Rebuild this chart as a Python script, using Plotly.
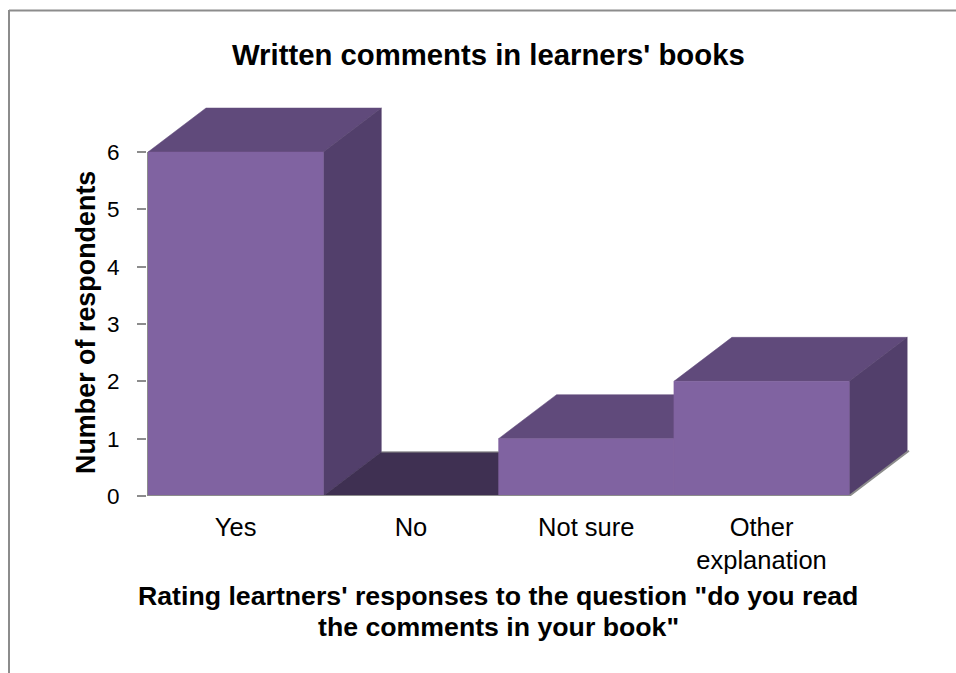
import plotly.graph_objects as go

categories = ["Yes", "No", "Not sure", "Other<br>explanation"]
respondents = [6, 0, 1, 2]
y_ticks = [0, 1, 2, 3, 4, 5, 6]

TITLE = "Written comments in learners' books"
Y_TITLE = "Number of respondents"
X_TITLE_LINES = ["Rating leartners' responses to the question \"do you read",
                 "the comments in your book\""]

FRONT = "#8063A1"
TOP = "#604A7B"
SIDE = "#523F6B"
FLOOR = "#3F3052"
AXIS = "#8C8C8C"

W, H = 956, 673
LEFT, RIGHT, TOP_PX, BOTTOM = 147, 928, 96, 496
CAT_PX = 175.3
UNIT_PX = 57.33
DX = 58 / CAT_PX      # depth offset of the 3D projection, in category units
DY = 44 / UNIT_PX     # depth offset of the 3D projection, in value units
X0 = -0.5 - 1 / CAT_PX
X1 = X0 + (RIGHT - LEFT) / CAT_PX
Y1 = (BOTTOM - TOP_PX) / UNIT_PX


def poly(xs, ys, color):
    return go.Scatter(x=xs + xs[:1], y=ys + ys[:1], mode="lines", fill="toself",
                      fillcolor=color, line=dict(color=color, width=0.5),
                      hoverinfo="skip", showlegend=False)


fig = go.Figure()
n = len(respondents)
xpos = list(range(n))

for i, v in zip(xpos, respondents):
    l, r = i - 0.5, i + 0.5
    fig.add_trace(poly([l, r, r + DX, l + DX], [v, v, v + DY, v + DY], TOP if v > 0 else FLOOR))
    if v > 0:
        fig.add_trace(poly([r, r + DX, r + DX, r], [0, DY, v + DY, v], SIDE))
        fig.add_trace(poly([l, r, r, l], [0, 0, v, v], FRONT))

# floor edges
zero = [i for i, v in zip(xpos, respondents) if v == 0]
for i in zero:
    fig.add_trace(go.Scatter(x=[i - 0.5 + DX, i + 0.5], y=[DY, DY], mode="lines",
                             line=dict(color=AXIS, width=1), hoverinfo="skip", showlegend=False))
fig.add_trace(go.Scatter(x=[X0, n - 0.5, n - 0.5 + DX * 1.03], y=[0, 0, DY * 1.03], mode="lines",
                         line=dict(color=AXIS, width=2), hoverinfo="skip", showlegend=False,
                         cliponaxis=False))
fig.add_trace(go.Scatter(x=[X0, X0], y=[0, max(y_ticks)], mode="lines",
                         line=dict(color=AXIS, width=2), hoverinfo="skip", showlegend=False,
                         cliponaxis=False))

FONT = "Liberation Sans, Arial, sans-serif"
fig.update_layout(
    width=W, height=H, margin=dict(l=0, r=0, t=0, b=0),
    paper_bgcolor="white", plot_bgcolor="white", showlegend=False,
    font=dict(family=FONT, color="black"),
    xaxis=dict(domain=[LEFT / W, RIGHT / W], range=[X0, X1], tickmode="array",
               tickvals=xpos, ticktext=categories, showgrid=False, zeroline=False,
               showline=False, ticks="", tickfont=dict(size=25.5), ticklabelstandoff=13,
               automargin=False),
    yaxis=dict(domain=[(H - BOTTOM) / H, (H - TOP_PX) / H], range=[0, Y1], tickmode="array",
               tickvals=y_ticks, showgrid=False, zeroline=False, showline=False,
               ticks="outside", ticklen=9, tickwidth=1.5, tickcolor=AXIS,
               tickfont=dict(size=22.5), ticklabelstandoff=13, automargin=False),
    annotations=[
        dict(text="<b>%s</b>" % TITLE, xref="paper", yref="paper", x=488 / W, y=1 - 54 / H,
             xanchor="center", yanchor="middle", showarrow=False, font=dict(size=29.3)),
        dict(text="<b>%s</b>" % Y_TITLE, xref="paper", yref="paper", x=86 / W, y=1 - 323 / H,
             xanchor="center", yanchor="middle", textangle=-90, showarrow=False, font=dict(size=26.9)),
        dict(text="<b>%s</b>" % X_TITLE_LINES[0], xref="paper", yref="paper", x=498 / W, y=1 - 596 / H,
             xanchor="center", yanchor="middle", showarrow=False, font=dict(size=26.7)),
        dict(text="<b>%s</b>" % X_TITLE_LINES[1], xref="paper", yref="paper", x=498 / W, y=1 - 627 / H,
             xanchor="center", yanchor="middle", showarrow=False, font=dict(size=26.7)),
    ],
    shapes=[
        dict(type="line", xref="paper", yref="paper", x0=9 / W, x1=1, y0=1 - 10.5 / H, y1=1 - 10.5 / H,
             line=dict(color=AXIS, width=2)),
        dict(type="line", xref="paper", yref="paper", x0=9 / W, x1=9 / W, y0=0, y1=1 - 10 / H,
             line=dict(color=AXIS, width=2)),
    ],
)

fig.write_html("out.html", config=dict(displayModeBar=False),
               post_script="document.body.style.margin='0';document.body.style.overflow='hidden';")
